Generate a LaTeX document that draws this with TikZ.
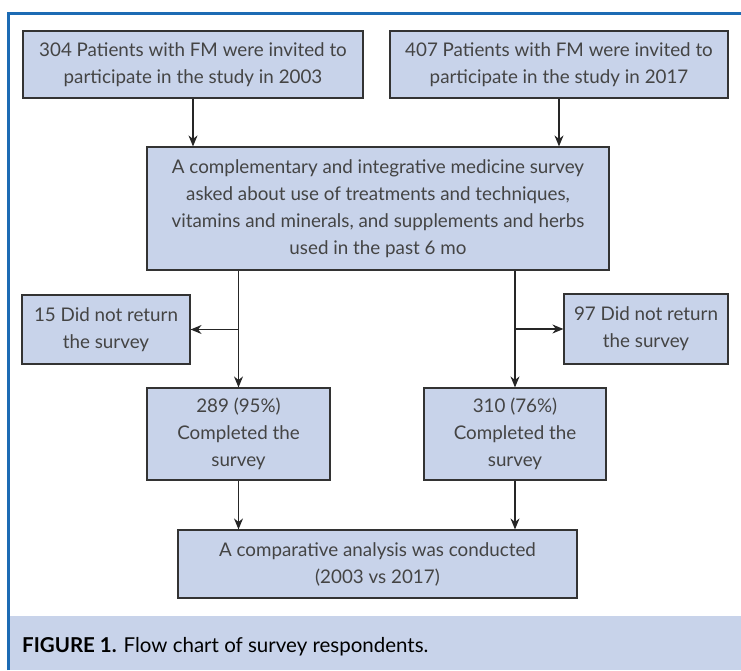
\documentclass[tikz,border=0pt]{standalone}
\usepackage{fontspec}
\setmainfont{Lato}
\usepackage{tikz}
\usetikzlibrary{arrows.meta}

\definecolor{boxfill}{HTML}{C8D3EA}
\definecolor{frameblue}{HTML}{1C6BB4}
\definecolor{boxtext}{HTML}{444444}

\begin{document}
\begin{tikzpicture}[x=1pt,y=-1pt,
		box/.style={fill=boxfill, draw=black!80, line width=1.2pt, text=boxtext, align=center, inner sep=0pt, font=\fontsize{18.8}{27}\selectfont},
		arr/.style={-{Stealth[length=11pt,width=9pt]}, line width=1.1pt, draw=black!85}]

		\useasboundingbox (0,0) rectangle (741,670);
		\fill[white] (0,0) rectangle (741,670);

		% frame and caption bar
		\fill[boxfill] (10,616) rectangle (741,670);
		\draw[frameblue, line width=3pt] (8.5,670) -- (8.5,13.5) -- (741,13.5);
		\node[anchor=base west, inner sep=0pt, font=\fontsize{20.5}{24}\selectfont] (cap) at (22,652) {\textbf{FIGURE 1.} Flow chart of survey respondents.};

		% boxes
		\node[box, minimum width=340pt, minimum height=67pt] (inv03) at (193,64.5) {304 Patients with FM were invited to\\participate in the study in 2003};
		\node[box, minimum width=338pt, minimum height=67pt] (inv17) at (559,64.5) {407 Patients with FM were invited to\\participate in the study in 2017};
		\node[box, minimum width=462pt, minimum height=123pt] (survey) at (378,208.5) {A complementary and integrative medicine survey\\asked about use of treatments and techniques,\\vitamins and minerals, and supplements and herbs\\used in the past 6 mo};
		\node[box, minimum width=168pt, minimum height=69pt] (noret03) at (106,329.5) {15 Did not return\\the survey};
		\node[box, minimum width=164pt, minimum height=70pt] (noret17) at (646,329) {97 Did not return\\the survey};
		\node[box, minimum width=183pt, minimum height=92pt] (done03) at (238.5,434) {289 (95\%)\\Completed the\\survey};
		\node[box, minimum width=182pt, minimum height=92pt] (done17) at (515,434) {310 (76\%)\\Completed the\\survey};
		\node[box, minimum width=399pt, minimum height=68pt] (comp) at (377.5,564) {A comparative analysis was conducted\\(2003 vs 2017)};

		% arrows
		\draw[arr] (inv03.south) -- (inv03.south |- survey.north);
		\draw[arr] (inv17.south) -- (inv17.south |- survey.north);
		\draw[arr] (survey.south -| done03.north) -- (done03.north);
		\draw[arr] (survey.south -| done17.north) -- (done17.north);
		\draw[arr] (done03.north |- noret03.east) -- (noret03.east);
		\draw[arr] (done17.north |- noret17.west) -- (noret17.west);
		\draw[arr] (done03.south) -- (done03.south |- comp.north);
		\draw[arr] (done17.south) -- (done17.south |- comp.north);
	\end{tikzpicture}
\end{document}
